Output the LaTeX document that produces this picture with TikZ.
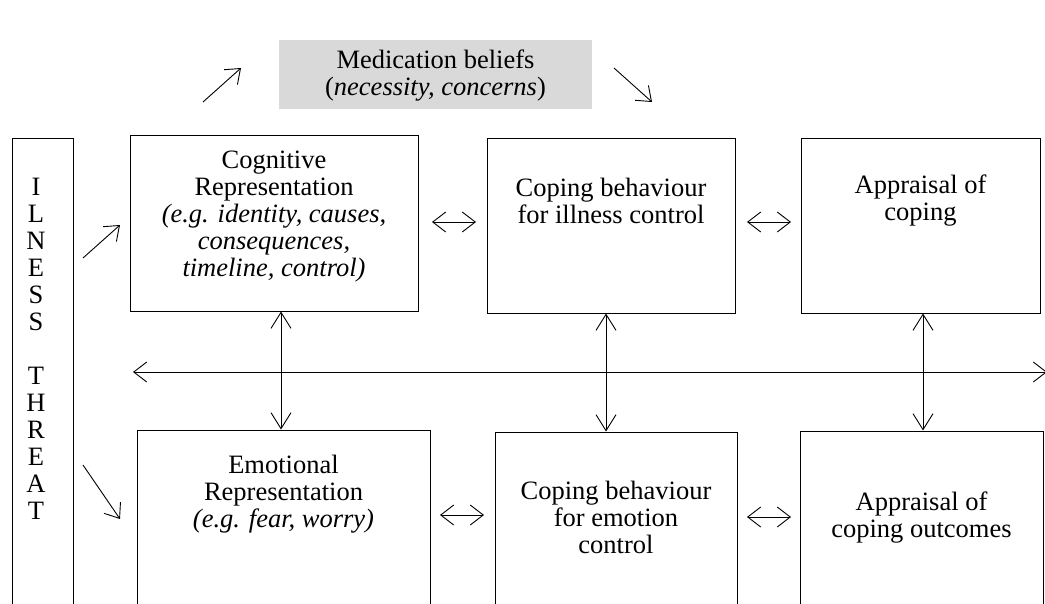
\documentclass[tikz,border=0pt]{standalone}
\usepackage{fontspec}
\setmainfont{Liberation Serif}
\usetikzlibrary{arrows.meta}

\begin{document}
\begin{tikzpicture}[x=1pt,y=-1pt,
  box/.style={draw, line width=1pt, inner sep=0, minimum width=#1},
  txt/.style={align=center, inner sep=0, font=\fontsize{26.5}{27}\selectfont},
  barb/.style={Straight Barb[length=13pt,width=20pt]},
  vbarb/.style={Straight Barb[length=16pt,width=20pt]},
  arr/.style={line width=0.9pt, -{Straight Barb[length=13pt,width=20pt]}},
  darr/.style={line width=0.9pt, {Straight Barb[length=13pt,width=20pt]}-{Straight Barb[length=13pt,width=20pt]}},
  vdarr/.style={line width=0.9pt, {Straight Barb[length=16pt,width=20pt]}-{Straight Barb[length=16pt,width=20pt]}}]

\useasboundingbox (0,0) rectangle (1045,603);
\clip (0,0) rectangle (1045,603);

% beliefs box
\node[fill=black!15, minimum width=313pt, minimum height=69pt, inner sep=0] (med) at (435.5,74.5) {};
\node[txt] (medtxt) at (435.5,76) {Medication beliefs\\(\textit{necessity, concerns})};

% illness threat column
\node[box=61pt, minimum height=482pt] (ill) at (42.5,379) {};
\node[txt] (illtxt) at (36,349) {I\\L\\N\\E\\S\\S\\~\\T\\H\\R\\E\\A\\T};

% top row
\node[box=288pt, minimum height=176pt] (cog) at (274,223) {};
\node[txt] (cogtxt) at (274,217) {Cognitive\\Representation\\\textit{(e.g. identity, causes,}\\\textit{consequences,}\\\textit{timeline, control)}};

\node[box=248pt, minimum height=175pt] (copil) at (611,225.5) {};
\node[txt] (copiltxt) at (611,201) {Coping behaviour\\for illness control};

\node[box=239pt, minimum height=175pt] (app) at (920.5,225.5) {};
\node[txt] (apptxt) at (920.5,201) {Appraisal of\\coping};

% bottom row (runs off the lower edge)
\node[box=293pt, minimum height=190pt] (emo) at (283.5,525) {};
\node[txt] (emotxt) at (283.5,494) {Emotional\\Representation\\\textit{(e.g. fear, worry)}};

\node[box=242pt, minimum height=188pt] (copem) at (616,526) {};
\node[txt] (copemtxt) at (616,517) {Coping behaviour\\for emotion\\control};

\node[box=243pt, minimum height=189pt] (out) at (921.5,525.5) {};
\node[txt] (outtxt) at (921.5,518) {Appraisal of\\coping outcomes};

% free arrow ends
\coordinate (m1) at (203,102); \coordinate (m2) at (241,68);
\coordinate (m3) at (614,68);  \coordinate (m4) at (652,102);
\coordinate (i1) at (83,258);  \coordinate (i2) at (120,225);
\coordinate (i3) at (83,465);  \coordinate (i4) at (120,519);
\coordinate (h1) at (133,372); \coordinate (h2) at (1047,372);
\coordinate (t1) at (432,222); \coordinate (t2) at (476,222);
\coordinate (t3) at (747,222); \coordinate (t4) at (791,222);
\coordinate (b1) at (440,515); \coordinate (b2) at (484,515);
\coordinate (b3) at (747,517); \coordinate (b4) at (791,517);
\coordinate (v1) at (281,0); \coordinate (v2) at (606,0); \coordinate (v3) at (923,0);

% arrows
\draw[arr] (m1) -- (m2);
\draw[arr] (m3) -- (m4);
\draw[arr] (i1) -- (i2);
\draw[arr] (i3) -- (i4);
\draw[darr] (h1) -- (h2);
\draw[darr] (t1) -- (t2);
\draw[darr] (t3) -- (t4);
\draw[darr] (b1) -- (b2);
\draw[darr] (b3) -- (b4);
\draw[vdarr] (v1 |- cog.south) -- (v1 |- emo.north);
\draw[vdarr] (v2 |- copil.south) -- (v2 |- copem.north);
\draw[vdarr] (v3 |- app.south) -- (v3 |- out.north);
\end{tikzpicture}
\end{document}
